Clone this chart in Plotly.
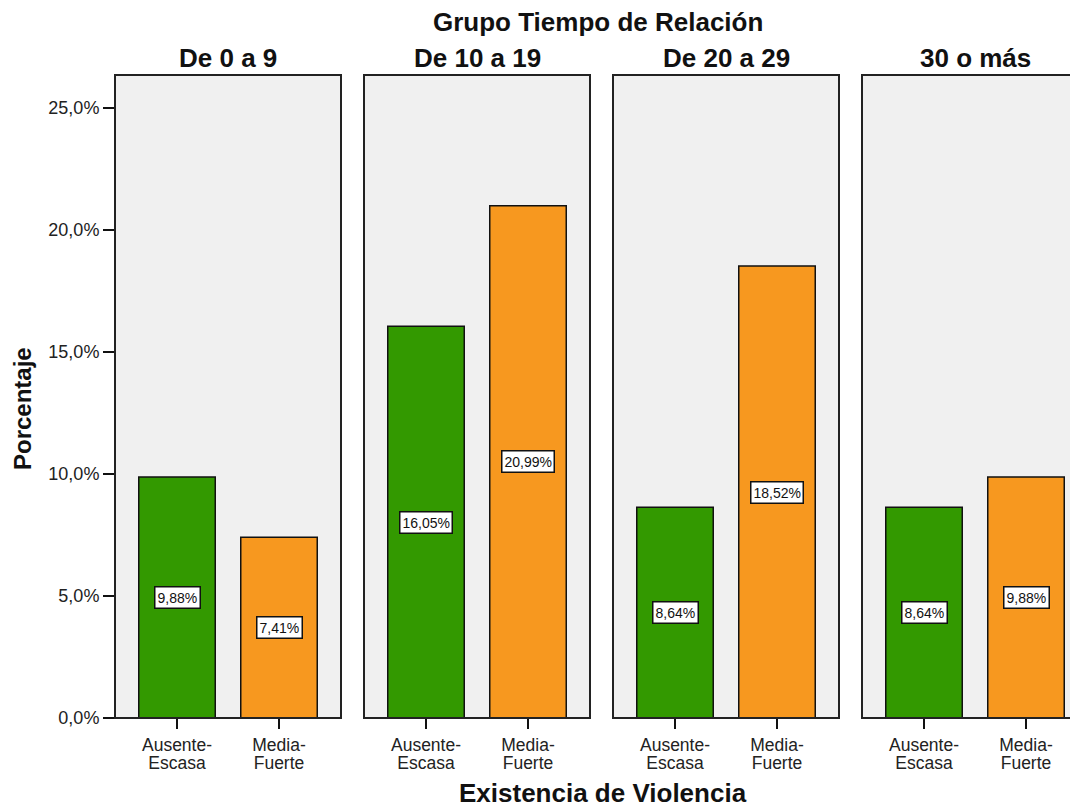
import plotly.graph_objects as go

# Porcentaje por grupo de tiempo de relación
groups = ["De 0 a 9", "De 10 a 19", "De 20 a 29", "30 o más"]
categories = ["Ausente-Escasa", "Media-Fuerte"]
cat_labels = ["Ausente-<br>Escasa", "Media-<br>Fuerte"]
ausente = [9.88, 16.05, 8.64, 8.64]
media = [7.41, 20.99, 18.52, 9.88]
y_ticks = [0, 5, 10, 15, 20, 25]
y_ticktext = ["0,0%", "5,0%", "10,0%", "15,0%", "20,0%", "25,0%"]
bar_colors = ["#339900", "#F7981F"]

OFF = 8  # the page body adds an 8px margin
W, H = 1078 - OFF, 807 - OFF
ML, MR, MT, MB = 115 - OFF, 0, 75 - OFF, 89
plot_w = W - ML - MR
plot_h = H - MT - MB
# panel extents in screen px (panel 4 runs past the right edge)
panels_px = [(115, 341), (364, 590), (613, 839), (862, 1078)]
unit = 102.0  # px per category step

FONT = "Liberation Sans, Arial, sans-serif"


def label(t):
    return "<br>".join(f"<span style='font-size:17.5px'>{p}</span>" for p in t.split("<br>"))


fig = go.Figure()
annotations = []
shapes = []

for i, g in enumerate(groups):
    n = "" if i == 0 else str(i + 1)
    x0, x1 = panels_px[i]
    dom = [(x0 - 115) / plot_w, min(1.0, (x1 - 115) / plot_w)]
    left = -62 / unit
    right = left + (x1 - x0) / unit
    vals = [ausente[i], media[i]]

    fig.add_trace(go.Bar(
        x=categories, y=vals,
        xaxis="x" + n, yaxis="y" + n,
        width=0.75,
        marker=dict(color=bar_colors, line=dict(color="#111111", width=1.5)),
        showlegend=False, hoverinfo="x+y",
    ))

    fig.layout["xaxis" + n] = dict(
        domain=dom, range=[left, right], anchor="y" + n,
        type="category",
        tickvals=categories, ticktext=[label(t) for t in cat_labels],
        ticks="outside", ticklen=10, tickwidth=2, tickcolor="#111111",
        ticklabelstandoff=5,
        tickfont=dict(size=14, color="#222222", family=FONT),
        showline=False, showgrid=False, zeroline=False, fixedrange=True,
    )
    ydict = dict(
        range=[0, 26.35], anchor="x" + n, showgrid=False, zeroline=False,
        showline=False, fixedrange=True,
    )
    if i == 0:
        ydict.update(
            tickmode="array", tickvals=y_ticks, ticktext=y_ticktext,
            ticks="outside", ticklen=11, tickwidth=2, tickcolor="#111111",
            tickfont=dict(size=18, color="#222222", family=FONT),
        )
    else:
        ydict.update(matches="y", showticklabels=False, ticks="")
    fig.layout["yaxis" + n] = ydict

    # panel frame
    shapes.append(dict(
        type="rect", xref=f"x{n} domain", yref=f"y{n} domain",
        x0=0, x1=1.0 if i < 3 else 1.2, y0=0, y1=1,
        line=dict(color="#222222", width=2), layer="above",
    ))

    # panel title
    annotations.append(dict(
        text=f"<b>{g}</b>", xref="paper", yref="paper",
        x=((x0 + 113) - 115) / plot_w, y=1, yshift=MT - (58 - OFF),
        xanchor="center", yanchor="middle",
        showarrow=False, font=dict(size=26, color="#111111", family=FONT),
    ))

    # value boxes
    for c, v in zip(categories, vals):
        annotations.append(dict(
            text=f"{v:.2f}%".replace(".", ","),
            xref="x" + n, yref="y" + n, x=c, y=v / 2,
            showarrow=False, bgcolor="white", bordercolor="#111111",
            borderwidth=1.5, borderpad=2,
            font=dict(size=14, color="#111111", family=FONT),
        ))

annotations += [
    dict(text="<b>Grupo Tiempo de Relación</b>", xref="paper", yref="paper",
         x=(598 - 115) / plot_w, y=1, yshift=MT - (22 - OFF),
         xanchor="center", yanchor="middle",
         showarrow=False, font=dict(size=26, color="#111111", family=FONT)),
    dict(text="<b>Existencia de Violencia</b>", xref="paper", yref="paper",
         x=(603 - 115) / plot_w, y=0, yshift=-(793 - 718),
         xanchor="center", yanchor="middle",
         showarrow=False, font=dict(size=26, color="#111111", family=FONT)),
    dict(text="<b>Porcentaje</b>", xref="paper", yref="paper",
         x=0, xshift=-(115 - 22), y=(718 - 409) / plot_h, textangle=-90,
         xanchor="center", yanchor="middle",
         showarrow=False, font=dict(size=24, color="#111111", family=FONT)),
]

fig.update_layout(
    width=W, height=H,
    margin=dict(l=ML, r=MR, t=MT, b=MB, pad=0),
    paper_bgcolor="white", plot_bgcolor="#F0F0F0",
    font=dict(family=FONT, color="#111111"),
    annotations=annotations, shapes=shapes,
)

fig.write_html("out.html")
